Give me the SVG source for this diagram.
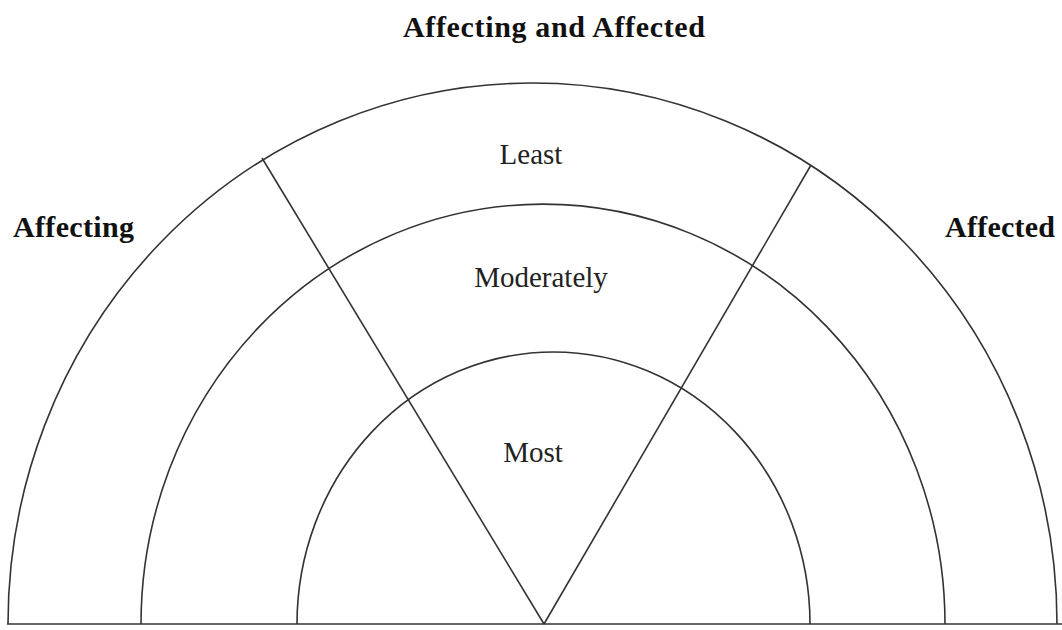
<svg xmlns="http://www.w3.org/2000/svg" width="1062" height="630" viewBox="0 0 1062 630">
<style>
.ln{fill:none;stroke:#333;stroke-width:1.6}
.b{font-family:"Liberation Serif","Times New Roman",serif;font-weight:bold;font-size:30px;fill:#111}
.r{font-family:"Liberation Serif","Times New Roman",serif;font-size:29px;fill:#222}
</style>
<rect width="1062" height="630" fill="#fff"/>
<g id="connectors">
<path class="ln" d="M7,624 H1062"/>
<path class="ln" d="M544,624 L262,158"/>
<path class="ln" d="M544,624 L811,165"/>
</g>
<g id="outer-ring">
<path class="ln" d="M8,624 A524.5 541 0 0 1 1057,624"/>
<text class="r" x="531" y="164" text-anchor="middle">Least</text>
</g>
<g id="middle-ring">
<path class="ln" d="M141,624 A402 420 0 0 1 945,624"/>
<text class="r" x="541" y="287" text-anchor="middle">Moderately</text>
</g>
<g id="inner-ring">
<path class="ln" d="M297,624 A256.5 272 0 0 1 810,624"/>
<text class="r" x="533" y="462" text-anchor="middle">Most</text>
</g>
<g id="title">
<text class="b" x="554" y="37" text-anchor="middle" textLength="302">Affecting and Affected</text>
</g>
<g id="affecting">
<text class="b" x="13" y="237" textLength="121">Affecting</text>
</g>
<g id="affected">
<text class="b" x="945" y="237" textLength="110">Affected</text>
</g>
</svg>
